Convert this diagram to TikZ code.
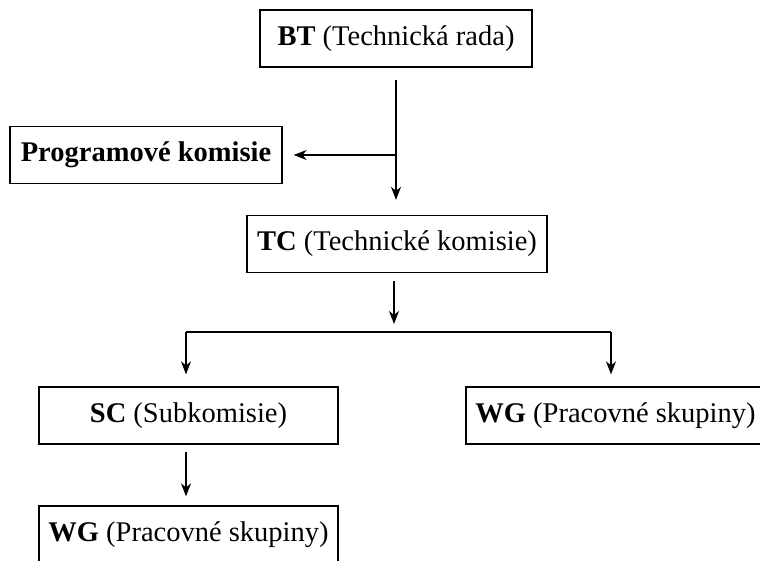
\documentclass[tikz,border=0pt]{standalone}
\usepackage{fontspec}
\setmainfont{Liberation Serif}
\usepackage{tikz}
\usetikzlibrary{arrows.meta}
\tikzset{
  orgbox/.style  = {draw,line width=1.3pt,inner sep=0pt,minimum height=57pt,
                    font=\fontsize{28.5}{34}\selectfont},
  orgarr/.style  = {-{Stealth[length=13pt,width=10pt,inset=4pt]},line width=1.2pt},
  orgline/.style = {line width=1.2pt}
}

\begin{document}
\begin{tikzpicture}[x=1pt,y=-1pt]
  \useasboundingbox (0,0) rectangle (760,561);
  \clip (0,0) rectangle (760,561);
  % boxes
  \node[orgbox,minimum width=272pt] (bt)   at (396,38.5)  {\textbf{BT} (Technická rada)};
  \node[orgbox,minimum width=272pt] (prog) at (146,155)   {\textbf{Programové komisie}};
  \node[orgbox,minimum width=300pt] (tc)   at (397,244)   {\textbf{TC} (Technické komisie)};
  \node[orgbox,minimum width=299pt] (sc)   at (188.5,415.5) {\textbf{SC} (Subkomisie)};
  \node[orgbox,minimum width=299pt] (wgr)  at (615.5,415.5) {\textbf{WG} (Pracovné skupiny)};
  \node[orgbox,minimum width=299pt] (wgb)  at (188.5,534.5) {\textbf{WG} (Pracovné skupiny)};
  % connectors
  \coordinate (split) at (bt.south |- prog.east);
  \coordinate (fork)  at (394,332);
  \coordinate (forkl) at (186,332);
  \coordinate (forkr) at (611,332);
  \draw[orgarr,shorten <=12pt,shorten >=15pt] (bt.south) -- (bt.south |- tc.north);
  \draw[orgarr,shorten >=11pt] (split) -- (prog.east);
  \draw[orgarr,shorten <=8pt,shorten >=8pt] (fork |- tc.south) -- (fork);
  \draw[orgline] (forkl) -- (forkr);
  \draw[orgarr,shorten >=12pt] (forkl) -- (forkl |- sc.north);
  \draw[orgarr,shorten >=12pt] (forkr) -- (forkr |- wgr.north);
  \draw[orgarr,shorten <=7pt,shorten >=9pt] (forkl |- sc.south) -- (forkl |- wgb.north);
\end{tikzpicture}
\end{document}
